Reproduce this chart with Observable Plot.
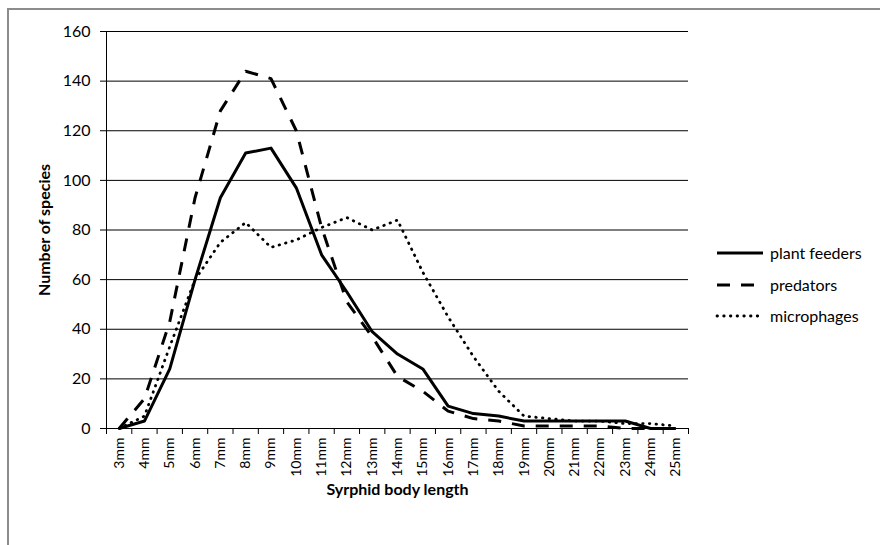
<!DOCTYPE html>
<html><head><meta charset="utf-8">
<script src="https://cdn.jsdelivr.net/npm/d3@7"></script>
<script src="https://cdn.jsdelivr.net/npm/@observablehq/plot@0.6"></script>
<style>
html,body{margin:0;padding:0;background:#fff;}
#wrap{position:relative;width:880px;height:545px;overflow:hidden;font-family:Lato,"Open Sans",sans-serif;}
#frame{position:absolute;left:7px;top:8px;right:-10px;bottom:-10px;border-left:2px solid #8c8c8c;border-top:2px solid #8c8c8c;}
#chart{position:absolute;left:0;top:0;}
#legend{position:absolute;left:0;top:0;}
</style></head><body>
<div id="wrap"><div id="frame"></div><div id="chart"></div><div id="legend"></div></div>
<script>
const categories = ["3mm","4mm","5mm","6mm","7mm","8mm","9mm","10mm","11mm","12mm","13mm","14mm","15mm","16mm","17mm","18mm","19mm","20mm","21mm","22mm","23mm","24mm","25mm"];
const plantFeeders = [0,3,24,60,93,111,113,97,70,55,39,30,24,9,6,5,3,3,3,3,3,0,0];
const predators    = [0,12,43,93,128,144,141,120,81,51,37,21,15,7,4,3,1,1,1,1,0,0,0];
const microphages  = [0,5,33,60,75,83,73,76,81,85,80,84,63,45,29,15,5,4,3,3,2,2,1];
const seriesNames = ["plant feeders","predators","microphages"];
const yTicks = [0,20,40,60,80,100,120,140,160];
const xTitle = "Syrphid body length";
const yTitle = "Number of species";

const seriesValues = [plantFeeders, predators, microphages];
const dashStyles = [null, "13,11", "0.5,6.2"];
const caps = ["butt","butt","round"];

const rows = [];
seriesNames.forEach((s, k) => seriesValues[k].forEach((v, i) => rows.push({s, i, v})));
const boundaries = d3.range(categories.length + 1).map(i => i - 0.5);
const font = "Lato, 'Open Sans', sans-serif";

const chart = Plot.plot({
  width: 880, height: 545,
  marginLeft: 106, marginRight: 192, marginTop: 31, marginBottom: 117,
  style: {fontFamily: font, fontSize: "16px", color: "#000", background: "transparent", overflow: "visible"},
  x: {type: "linear", domain: [-0.5, categories.length - 0.5]},
  y: {domain: [0, 160]},
  marks: [
    Plot.ruleY(yTicks, {stroke: "#000", strokeWidth: 1}),
    Plot.ruleX([-0.5], {stroke: "#000", strokeWidth: 1}),
    Plot.axisY(yTicks, {tickSize: 6, tickPadding: 10, tickFormat: d => d, label: null, fontSize: 16, stroke: "#000"}),
    Plot.axisX(boundaries, {tickSize: 6, tickFormat: () => "", label: null, stroke: "#000"}),
    Plot.axisX(d3.range(categories.length), {tickSize: 0, tickPadding: 9, tickRotate: -90, tickFormat: i => categories[i], label: null, fontSize: 14}),
    ...seriesNames.map((s, k) => Plot.line(rows.filter(r => r.s === s), {
      x: "i", y: "v", stroke: "#000", strokeWidth: k === 2 ? 2.8 : 3,
      strokeDasharray: dashStyles[k], strokeLinecap: caps[k], strokeLinejoin: "round"
    })),
    Plot.text([xTitle], {frameAnchor: "bottom", dy: 61, lineAnchor: "middle", textAnchor: "middle", fontWeight: "bold", fontSize: 16, fill: "#000"}),
    Plot.text([yTitle], {frameAnchor: "left", dx: -62, rotate: -90, lineAnchor: "middle", textAnchor: "middle", fontWeight: "bold", fontSize: 16, fill: "#000"})
  ]
});
document.getElementById("chart").appendChild(chart);

// legend
const legendY = [253, 285, 316];
const lg = d3.select("#legend").append("svg").attr("width", 880).attr("height", 545)
  .style("font-family", font).style("font-size", "16px");
seriesNames.forEach((s, k) => {
  const g = lg.append("g").attr("transform", `translate(717,${legendY[k]})`);
  g.append("line").attr("x1", 0).attr("x2", 46).attr("y1", 0).attr("y2", 0)
    .attr("stroke", "#000").attr("stroke-width", k === 2 ? 2.8 : 3)
    .attr("stroke-dasharray", dashStyles[k]).attr("stroke-linecap", caps[k]);
  g.append("text").attr("x", 53).attr("y", 0).attr("dy", "0.35em").attr("fill", "#000").text(s);
});
</script>
</body></html>
